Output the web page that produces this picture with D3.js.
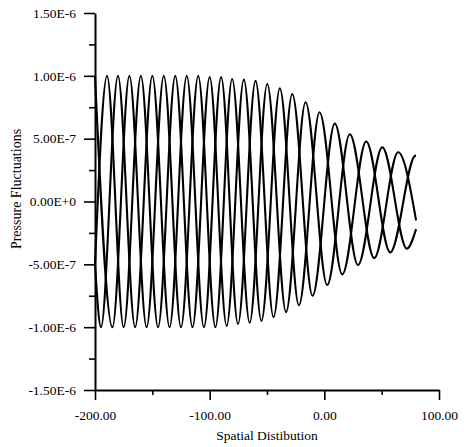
<!DOCTYPE html>
<html><head><meta charset="utf-8">
<script src="https://cdn.jsdelivr.net/npm/d3@7"></script>
<style>body{margin:0;background:#fff}svg{display:block}</style>
</head><body>
<svg id="c" width="464" height="447"></svg>
<script>
// ---- data (pressure values in units of 1e-6) ----
const xTicksMajor = [-200, -100, 0, 100];
const xTickLabels = ["-200.00", "-100.00", "0.00", "100.00"];
const xTicksMinor = [-150, -50, 50];
const yTicksMajor = [-1.5, -1.0, -0.5, 0, 0.5, 1.0, 1.5];
const yTickLabels = ["-1.50E-6", "-1.00E-6", "-5.00E-7", "0.00E+0", "5.00E-7", "1.00E-6", "1.50E-6"];
const yTicksMinor = [-1.25, -0.75, -0.25, 0.25, 0.75, 1.25];
const xTitle = "Spatial Distibution";
const yTitle = "Pressure Fluctuations";

// crests of the three snapshots (crest j belongs to snapshot j % 3)
const crestX = [-200, -189.5, -180, -170, -160, -150, -140, -130, -120, -110, -100, -90, -80.4, -70.2, -60, -49.8, -38.8, -28, -16.4, -4.2, 9.1, 22.2, 36.5, 50.5, 64.4, 79.6];
const crestV = [1.0, 1.0, 1.0, 1.0, 1.0, 1.0, 1.0, 1.0, 1.0, 1.0, 0.99, 0.99, 0.975, 0.97, 0.96, 0.935, 0.9, 0.855, 0.79, 0.71, 0.62, 0.535, 0.477, 0.432, 0.392, 0.365];
// troughs (trough m belongs to snapshot (m + 2) % 3)
const troughX = [-194.75, -184.8, -175, -165, -155, -145, -135, -125, -115, -105, -95, -85.2, -75.3, -65.1, -54.9, -44.3, -33.4, -22.2, -10.3, 2.45, 15.65, 29.35, 43.5, 57.45, 72];
const troughV = [-1.0, -1.0, -1.0, -1.0, -1.0, -1.0, -1.0, -1.0, -1.0, -1.0, -1.0, -0.99, -0.975, -0.965, -0.95, -0.92, -0.88, -0.825, -0.75, -0.665, -0.58, -0.505, -0.45, -0.405, -0.375];
const startX = -200, endX = 80;
const startV = [1.0, -0.5, -0.5];
const endV = [-0.15, 0.365, -0.22];

// ---- drawing ----
const svg = d3.select("#c");
svg.append("rect").attr("width", 464).attr("height", 447).attr("fill", "#fff");
const font = "'Liberation Serif', 'Times New Roman', serif";
const x = d3.scaleLinear([-200, 100], [95, 439]);
const y = d3.scaleLinear([-1.5, 1.5], [390, 13]);

// curves
const series = [0, 1, 2].map(k => {
  const pts = [{x: startX, v: startV[k]}];
  crestX.forEach((cx, j) => { if (j % 3 === k) pts.push({x: cx, v: crestV[j]}); });
  troughX.forEach((tx, m) => { if ((m + 2) % 3 === k) pts.push({x: tx, v: troughV[m]}); });
  pts.push({x: endX, v: endV[k]});
  pts.sort((a, b) => a.x - b.x);
  return pts.filter((p, i) => i === 0 || p.x !== pts[i - 1].x);
});
const line = d3.line().x(d => x(d.x)).y(d => y(d.v)).curve(d3.curveMonotoneX);
svg.append("g").selectAll("path").data(series).join("path")
  .attr("d", line).attr("fill", "none").attr("stroke", "#000")
  .attr("stroke-width", 2.1).attr("stroke-linejoin", "round");

// y axis
const gy = svg.append("g").attr("transform", `translate(${x(-200)},0)`);
gy.call(d3.axisLeft(y).tickValues(yTicksMajor).tickSize(11).tickPadding(8).tickSizeOuter(0)
  .tickFormat((d, i) => yTickLabels[i]));
const gym = svg.append("g").attr("transform", `translate(${x(-200)},0)`);
gym.call(d3.axisLeft(y).tickValues(yTicksMinor).tickSize(6).tickFormat("").tickSizeOuter(0));
gym.select(".domain").remove();

// x axis
const gx = svg.append("g").attr("transform", `translate(0,${y(-1.5)})`);
gx.call(d3.axisBottom(x).tickValues(xTicksMajor).tickSize(10).tickPadding(10).tickSizeOuter(0)
  .tickFormat((d, i) => xTickLabels[i]));
const gxm = svg.append("g").attr("transform", `translate(0,${y(-1.5)})`);
gxm.call(d3.axisBottom(x).tickValues(xTicksMinor).tickSize(5).tickFormat("").tickSizeOuter(0));
gxm.select(".domain").remove();

svg.selectAll(".domain").attr("stroke", "#000").attr("stroke-width", 2);
svg.selectAll(".tick line").attr("stroke", "#000").attr("stroke-width", 1.6);
svg.selectAll(".tick text").attr("fill", "#000").style("font-family", font).style("font-size", "13.5px");

// titles
svg.append("text").attr("x", 267).attr("y", 440).attr("text-anchor", "middle")
  .style("font-family", font).style("font-size", "13.5px").text(xTitle);
svg.append("text").attr("transform", "translate(21,189) rotate(-90)").attr("text-anchor", "middle")
  .style("font-family", font).style("font-size", "14px").text(yTitle);
</script>
</body></html>
